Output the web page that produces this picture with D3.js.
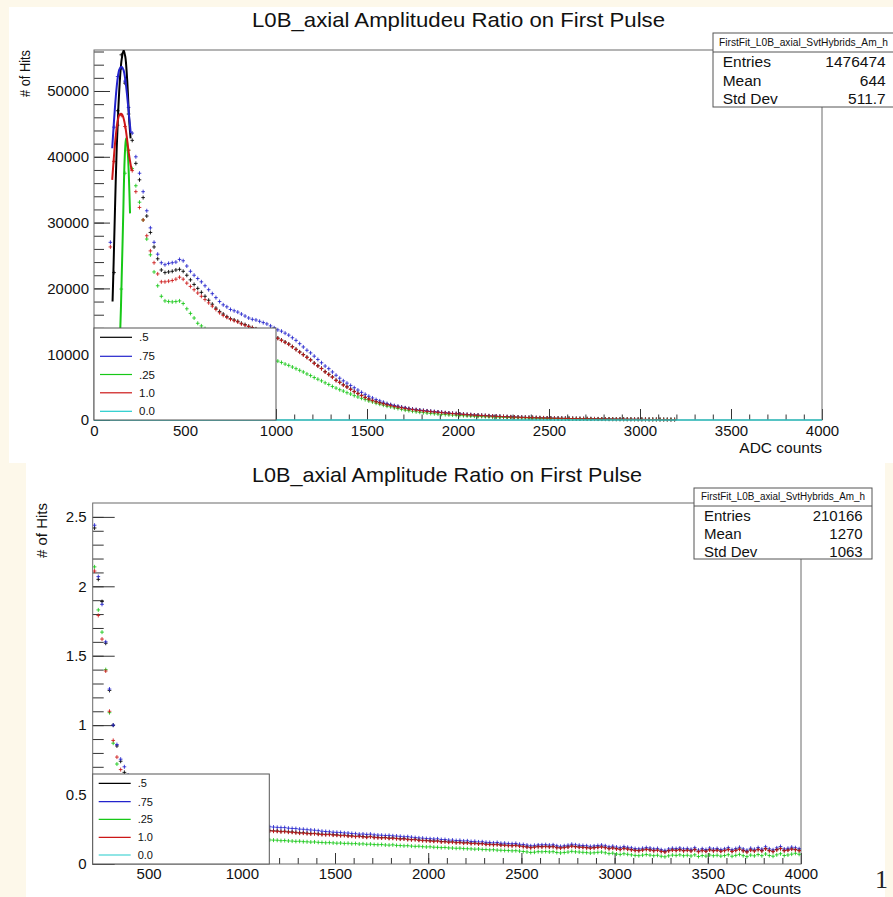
<!DOCTYPE html>
<html>
<head>
<meta charset="utf-8">
<script src="https://cdn.jsdelivr.net/npm/d3@7"></script>
<style>
  body { margin: 0; background: #fdf8ea; }
  svg { display: block; }
</style>
</head>
<body>
<svg id="chart" width="893" height="897"></svg>
<script>
  //ROOT style amplitude ratio histograms, two pads stacked

  const FONT = "'Liberation Sans', Arial, Helvetica, sans-serif";

  const binWidth = 20,
    topFirstBin = 80,      //low edge of first filled bin, upper pad
    topCyanFirstBin = 0,
    bottomFirstBin = 200;  //low edge of first bin, lower pad

  const seriesLabels = [".5", ".75", ".25", "1.0", "0.0"],
    seriesColors = ["#000000", "#2323cc", "#17c817", "#cc1717", "#22cccc"];

  //upper pad: # of hits per 20 ADC bin (bins 80-100 ... 3180-3200)
  const topBlack = [
    null,22400,47000,55500,51200,46500,42500,39000,36500,33800,
    31000,28500,26300,24500,22800,22400,22500,22600,22800,22900,
    22600,22000,21300,20600,20000,19400,18800,18200,17600,17000,
    16500,16100,15700,15400,15200,15000,14700,14500,14250,14050,
    13850,13550,13250,13050,12850,12550,12450,12150,11850,11550,
    11150,10750,10350,9950,9550,9150,8650,8250,7850,7350,
    6950,6550,6050,5750,5350,5050,4700,4350,4050,3750,
    3450,3200,3000,2800,2650,2500,2350,2250,2100,2000,
    1900,1800,1700,1610,1540,1470,1410,1350,1290,1240,
    1190,1140,1080,1030,990,950,910,870,820,790,
    750,720,690,660,625,595,565,540,510,490,
    470,450,430,410,390,372,357,342,327,312,
    300,286,272,260,250,240,230,220,210,200,
    190,182,174,166,158,151,145,138,131,125,
    120,114,109,104,100,94,90,84,80,74,
    70,64,60,54,50,46];

  const topBlue = [
    27000,44500,52200,53500,51500,47500,43600,40000,37500,34700,
    31800,29200,27000,25200,23900,23600,23800,23900,24000,24400,
    24200,23400,22600,22000,21500,21000,20400,19800,19200,18600,
    18000,17500,17200,16800,16600,16400,16100,15800,15500,15300,
    15200,15000,14800,14600,14300,14000,13700,13500,13200,12900,
    12500,12100,11600,11100,10600,10200,9700,9200,8700,8200,
    7800,7300,6800,6350,5950,5600,5250,4900,4550,4200,
    3900,3600,3350,3100,2900,2700,2500,2350,2200,2100,
    1950,1850,1750,1650,1580,1500,1450,1380,1320,1270,
    1220,1160,1100,1050,1000,960,910,870,820,790,
    750,720,690,660,630,600,570,540,510,490,
    470,450,430,410,390,370,355,340,325,310,
    300,285,270,260,250,240,230,220,210,200,
    190,180,175,165,160,150,145,140,130,125,
    120,115,110,105,100,95,90,85,80,75,
    70,65,60,55,50,45];

  const topGreen = [
    null,null,null,19900,37500,41000,38200,35600,33100,30400,
    27500,25100,22500,20400,18800,18100,18000,17950,18000,18100,
    17700,16900,16200,15500,14700,14300,13900,13500,13100,12700,
    12300,12000,11700,11400,11100,10900,10600,10400,10200,10000,
    9800,9600,9450,9300,9150,9050,8950,8750,8500,8300,
    8050,7800,7550,7300,7000,6750,6450,6200,5950,5650,
    5400,5100,4850,4600,4400,4150,3950,3700,3500,3300,
    3100,2900,2750,2550,2400,2250,2100,2000,1850,1750,
    1620,1500,1420,1330,1250,1180,1120,1060,1000,950,
    900,860,820,780,750,720,690,660,630,600,
    575,550,525,500,480,460,440,420,400,385,
    370,355,340,325,310,295,285,270,260,250,
    240,230,220,210,200,192,184,176,168,160,
    153,146,140,133,127,121,116,110,105,100,
    96,92,88,84,80,76,72,69,65,62,
    58,55,52,49,46,43];

  const topRed = [
    26300,39300,44800,46300,44600,41000,37900,34700,32300,30400,
    28000,25700,23900,22200,21000,21000,21100,21200,21400,21700,
    21400,20800,20300,19800,19300,18800,18300,17800,17300,16800,
    16300,15900,15600,15300,15100,14900,14600,14400,14200,14000,
    13800,13500,13200,13000,12800,12500,12400,12100,11800,11500,
    11100,10700,10300,9900,9500,9100,8600,8200,7800,7300,
    6900,6500,6000,5700,5300,5000,4650,4300,4000,3700,
    3400,3150,2950,2750,2600,2450,2300,2200,2050,1950,
    1850,1750,1650,1570,1500,1430,1370,1310,1260,1210,
    1160,1110,1060,1010,970,930,890,850,800,770,
    730,700,670,640,610,580,555,530,500,480,
    460,440,420,400,380,365,350,335,320,305,
    295,280,265,255,245,235,225,215,205,195,
    185,178,170,162,155,148,142,135,128,122,
    118,112,107,102,98,92,88,82,78,72,
    68,62,58,52,48,44];

  //0.0 ratio: empty everywhere, drawn along zero (bins 0-20 ... 3980-4000)
  const topCyan = [
    0,0,0,0,0,0,0,0,0,0,0,0,0,0,0,0,0,0,0,0,
    0,0,0,0,0,0,0,0,0,0,0,0,0,0,0,0,0,0,0,0,
    0,0,0,0,0,0,0,0,0,0,0,0,0,0,0,0,0,0,0,0,
    0,0,0,0,0,0,0,0,0,0,0,0,0,0,0,0,0,0,0,0,
    0,0,0,0,0,0,0,0,0,0,0,0,0,0,0,0,0,0,0,0,
    0,0,0,0,0,0,0,0,0,0,0,0,0,0,0,0,0,0,0,0,
    0,0,0,0,0,0,0,0,0,0,0,0,0,0,0,0,0,0,0,0,
    0,0,0,0,0,0,0,0,0,0,0,0,0,0,0,0,0,0,0,0,
    0,0,0,0,0,0,0,0,0,0,0,0,0,0,0,0,0,0,0,0,
    0,0,0,0,0,0,0,0,0,0,0,0,0,0,0,0,0,0,0,0];

  //gaussian fits near the peak, [ADC, hits]
  const topFitBlack = [[102,18000],[108,24000],[115,31700],[125,41500],[134,47500],[143,52000],
    [152,54800],[163,56200],[172,55200],[182,51800],[194,45300],[201,42800]];
  const topFitBlue = [[100,41300],[110,45500],[120,49200],[130,51900],[140,53300],[152,53700],
    [162,53200],[172,51700],[182,49300],[192,46400],[202,43600]];
  const topFitGreen = [[140,9000],[144,13500],[148,17000],[152,21500],[157,27000],[161,31700],
    [166,37700],[171,41200],[176,42800],[181,42300],[186,40500],[191,37500],[198,31400]];
  const topFitRed = [[100,36500],[110,40200],[120,43300],[130,45400],[140,46400],[152,46500],
    [162,45900],[172,44600],[182,42600],[192,40400],[207,37900]];

  //lower pad: ratio per 20 ADC bin (bins 200-220 ... 3980-4000)
  const bottomBlack = [
    2.42,2.05,1.89,1.59,1.25,1.00,0.85,0.74,0.66,0.60,
    0.55,0.52,0.49,0.465,0.445,0.425,0.41,0.395,0.38,0.37,
    0.36,0.35,0.34,0.333,0.327,0.321,0.316,0.311,0.306,0.301,
    0.296,0.291,0.287,0.283,0.279,0.276,0.273,0.27,0.267,0.264,
    0.261,0.258,0.255,0.252,0.249,0.246,0.244,0.241,0.239,0.238,
    0.235,0.236,0.232,0.231,0.228,0.225,0.225,0.222,0.220,0.221,
    0.217,0.215,0.214,0.215,0.211,0.210,0.207,0.208,0.204,0.203,
    0.200,0.202,0.198,0.195,0.199,0.193,0.192,0.190,0.191,0.187,
    0.188,0.185,0.182,0.183,0.179,0.177,0.178,0.173,0.171,0.170,
    0.168,0.166,0.167,0.162,0.163,0.159,0.160,0.156,0.157,0.153,
    0.154,0.150,0.151,0.147,0.148,0.144,0.143,0.141,0.142,0.138,
    0.137,0.135,0.134,0.136,0.131,0.128,0.124,0.120,0.123,0.127,
    0.126,0.128,0.125,0.127,0.120,0.117,0.121,0.124,0.130,0.126,
    0.123,0.122,0.119,0.116,0.119,0.122,0.124,0.120,0.113,0.117,
    0.111,0.107,0.114,0.109,0.104,0.100,0.098,0.102,0.107,0.103,
    0.098,0.101,0.093,0.089,0.097,0.102,0.100,0.104,0.097,0.101,
    0.096,0.105,0.091,0.099,0.094,0.103,0.097,0.101,0.094,0.099,
    0.106,0.093,0.100,0.108,0.097,0.089,0.102,0.096,0.106,0.097,
    0.111,0.098,0.092,0.104,0.113,0.098,0.102,0.109,0.105,0.099];

  const bottomBlue = [
    2.44,2.07,1.87,1.60,1.26,1.00,0.86,0.755,0.70,0.64,
    0.59,0.55,0.52,0.49,0.47,0.45,0.43,0.415,0.40,0.39,
    0.38,0.37,0.36,0.35,0.345,0.34,0.335,0.33,0.325,0.32,
    0.315,0.31,0.305,0.30,0.298,0.295,0.292,0.29,0.287,0.285,
    0.282,0.28,0.278,0.275,0.273,0.271,0.269,0.268,0.266,0.264,
    0.262,0.262,0.258,0.256,0.255,0.251,0.250,0.247,0.245,0.243,
    0.240,0.236,0.234,0.232,0.229,0.228,0.227,0.224,0.223,0.220,
    0.218,0.215,0.216,0.213,0.215,0.210,0.208,0.207,0.205,0.206,
    0.203,0.201,0.199,0.196,0.197,0.193,0.190,0.188,0.186,0.183,
    0.182,0.180,0.181,0.176,0.176,0.172,0.172,0.169,0.170,0.166,
    0.167,0.162,0.163,0.159,0.160,0.156,0.155,0.152,0.155,0.149,
    0.150,0.147,0.146,0.148,0.142,0.140,0.136,0.131,0.134,0.137,
    0.138,0.139,0.136,0.138,0.131,0.127,0.131,0.135,0.142,0.138,
    0.135,0.133,0.131,0.127,0.130,0.133,0.136,0.131,0.124,0.128,
    0.122,0.118,0.125,0.120,0.116,0.111,0.109,0.113,0.118,0.115,
    0.109,0.112,0.103,0.098,0.108,0.113,0.111,0.115,0.109,0.112,
    0.106,0.117,0.100,0.110,0.104,0.115,0.108,0.112,0.104,0.109,
    0.118,0.103,0.111,0.120,0.108,0.099,0.113,0.106,0.118,0.107,
    0.124,0.109,0.102,0.116,0.126,0.108,0.113,0.121,0.117,0.110];

  const bottomGreen = [
    2.14,1.83,1.67,1.40,1.09,0.87,0.72,0.63,0.56,0.50,
    0.46,0.42,0.39,0.36,0.34,0.32,0.305,0.29,0.28,0.27,
    0.26,0.252,0.245,0.238,0.232,0.227,0.222,0.218,0.214,0.21,
    0.206,0.203,0.20,0.197,0.194,0.191,0.189,0.187,0.185,0.183,
    0.181,0.18,0.178,0.177,0.176,0.175,0.174,0.173,0.172,0.171,
    0.168,0.169,0.166,0.165,0.163,0.164,0.161,0.16,0.158,0.159,
    0.156,0.155,0.153,0.154,0.152,0.15,0.151,0.148,0.149,0.146,
    0.147,0.144,0.145,0.142,0.143,0.14,0.139,0.14,0.137,0.136,
    0.138,0.134,0.133,0.131,0.132,0.129,0.127,0.128,0.125,0.123,
    0.124,0.121,0.12,0.118,0.119,0.116,0.115,0.113,0.114,0.111,
    0.11,0.109,0.107,0.108,0.105,0.104,0.102,0.103,0.1,0.099,
    0.098,0.097,0.095,0.096,0.093,0.09,0.087,0.083,0.085,0.089,
    0.088,0.09,0.087,0.089,0.083,0.08,0.083,0.086,0.091,0.088,
    0.086,0.084,0.082,0.079,0.081,0.084,0.086,0.081,0.075,0.078,
    0.072,0.069,0.074,0.07,0.066,0.062,0.06,0.064,0.068,0.064,
    0.06,0.063,0.056,0.052,0.059,0.064,0.062,0.066,0.06,0.063,
    0.058,0.066,0.054,0.061,0.057,0.065,0.06,0.063,0.057,0.061,
    0.067,0.056,0.062,0.069,0.06,0.053,0.064,0.059,0.068,0.06,
    0.072,0.061,0.056,0.066,0.074,0.061,0.065,0.071,0.077,0.07];

  const bottomRed = [
    2.11,1.79,1.62,1.39,1.10,0.89,0.77,0.68,0.62,0.57,
    0.53,0.50,0.47,0.45,0.43,0.41,0.395,0.38,0.37,0.36,
    0.35,0.34,0.33,0.325,0.32,0.315,0.31,0.305,0.30,0.295,
    0.29,0.285,0.282,0.278,0.275,0.272,0.269,0.266,0.263,0.26,
    0.257,0.254,0.252,0.249,0.246,0.243,0.241,0.238,0.236,0.235,
    0.232,0.233,0.229,0.228,0.225,0.222,0.222,0.219,0.217,0.218,
    0.214,0.212,0.211,0.212,0.208,0.207,0.204,0.205,0.201,0.200,
    0.197,0.199,0.195,0.192,0.196,0.190,0.189,0.187,0.188,0.184,
    0.185,0.182,0.179,0.180,0.176,0.174,0.175,0.170,0.168,0.167,
    0.165,0.163,0.164,0.159,0.160,0.156,0.157,0.153,0.154,0.150,
    0.151,0.147,0.148,0.144,0.145,0.141,0.140,0.138,0.139,0.135,
    0.134,0.132,0.131,0.133,0.128,0.125,0.121,0.117,0.120,0.124,
    0.123,0.125,0.122,0.124,0.117,0.114,0.118,0.121,0.127,0.123,
    0.120,0.119,0.116,0.113,0.116,0.119,0.121,0.117,0.110,0.114,
    0.108,0.104,0.111,0.106,0.101,0.097,0.095,0.099,0.104,0.100,
    0.095,0.098,0.090,0.086,0.094,0.099,0.097,0.101,0.094,0.098,
    0.093,0.102,0.088,0.096,0.091,0.100,0.094,0.098,0.091,0.096,
    0.103,0.090,0.097,0.105,0.094,0.086,0.099,0.093,0.103,0.094,
    0.108,0.095,0.089,0.101,0.110,0.095,0.099,0.106,0.102,0.096];

  //axis ticks and stat boxes
  const topXTicks = [0,500,1000,1500,2000,2500,3000,3500,4000],
    topYTicks = [0,10000,20000,30000,40000,50000],
    bottomXTicks = [500,1000,1500,2000,2500,3000,3500,4000],
    bottomYTicks = [0,0.5,1,1.5,2,2.5];

  const topStats = [["Entries","1476474"],["Mean","644"],["Std Dev","511.7"]],
    bottomStats = [["Entries","210166"],["Mean","1270"],["Std Dev","1063"]];

  const svg = d3.select("#chart");

  //white pads on the cream page
  svg.append("rect").attr("x", 9).attr("y", 7).attr("width", 884).attr("height", 456).attr("fill", "#fff");
  svg.append("rect").attr("x", 26).attr("y", 462).attr("width", 859).attr("height", 435).attr("fill", "#fff");

  const addText = function(g, x, y, str, size, anchor){
    return g.append("text")
      .attr("x", x).attr("y", y)
      .attr("font-family", FONT)
      .attr("font-size", size)
      .attr("text-anchor", anchor || "start")
      .attr("fill", "#111")
      .text(str);
  };

  //"+" markers with horizontal bin-width bars
  const pointsPath = function(values, first, x, y, half){
    let d = "";
    values.forEach(function(v, i){
      if(v == null) return;
      const lo = first + i * binWidth,
        x0 = x(lo), x1 = x(lo + binWidth), xc = (x0 + x1) / 2, yc = y(v);
      d += "M" + x0 + "," + yc + "H" + x1;
      if(half > 0) d += "M" + xc + "," + (yc - half) + "V" + (yc + half);
    });
    return d;
  };

  const drawPanel = function(p){
    const g = svg.append("g");

    const x = d3.scaleLinear().domain(p.xDomain).range([p.left, p.right]),
      y = d3.scaleLinear().domain(p.yDomain).range([p.bottom, p.top]);

    //clip a hair below the axis so zero-level bars stay visible
    g.append("clipPath").attr("id", p.id + "-clip")
      .append("rect")
        .attr("x", p.left).attr("y", p.top)
        .attr("width", p.right - p.left).attr("height", p.bottom - p.top + 1.5);

    //title
    addText(g, p.titleX, p.titleY, p.title, 21, "middle")
      .attr("textLength", p.titleLen).attr("lengthAdjust", "spacingAndGlyphs");

    //ticks inside the frame, ROOT style
    const styleAxis = function(a){
      a.select(".domain").remove();
      a.attr("font-family", FONT).attr("font-size", 15);
      a.selectAll(".tick line").attr("stroke", "#333");
      a.selectAll(".tick text").attr("fill", "#111");
    };

    g.append("g").attr("transform", "translate(" + p.left + ",0)")
      .call(d3.axisLeft(y).tickValues(p.yMinor).tickSize(-p.yMinorLen).tickFormat(""))
      .call(styleAxis);
    g.append("g").attr("transform", "translate(" + p.left + ",0)")
      .call(d3.axisLeft(y).tickValues(p.yTicks).tickSize(-p.yMajorLen).tickPadding(p.yPad).tickFormat(d3.format("~g")))
      .call(styleAxis);
    g.append("g").attr("transform", "translate(0," + p.bottom + ")")
      .call(d3.axisBottom(x).tickValues(p.xMinor).tickSize(-p.xMinorLen).tickFormat(""))
      .call(styleAxis);
    g.append("g").attr("transform", "translate(0," + p.bottom + ")")
      .call(d3.axisBottom(x).tickValues(p.xTicks).tickSize(-p.xMajorLen).tickPadding(p.xPad).tickFormat(d3.format("d")))
      .call(styleAxis);

    //frame
    g.append("rect")
      .attr("x", p.left).attr("y", p.top)
      .attr("width", p.right - p.left).attr("height", p.bottom - p.top)
      .attr("fill", "none").attr("stroke", "#6a6a6a");

    //data points
    const data = g.append("g").attr("clip-path", "url(#" + p.id + "-clip)");
    p.series.forEach(function(s){
      data.append("path")
        .attr("d", pointsPath(s.values, s.first, x, y, s.half == null ? 2 : s.half))
        .attr("fill", "none")
        .attr("stroke", seriesColors[s.index])
        .attr("stroke-opacity", 0.85)
        .attr("stroke-width", s.half === 0 ? 1.6 : 1);
    });

    //fit curves
    const line = d3.line().x((d) => x(d[0])).y((d) => y(d[1])).curve(d3.curveCatmullRom);
    (p.fits || []).forEach(function(f){
      data.append("path")
        .attr("d", line(f.points))
        .attr("fill", "none")
        .attr("stroke", seriesColors[f.index])
        .attr("stroke-width", 2);
    });

    //axis titles
    addText(g, p.right, p.xTitleY, p.xTitle, 15.5, "end");
    addText(g, 0, 0, "# of Hits", p.yTitleSize, "end")
      .attr("transform", "translate(" + p.yTitleX + "," + p.top + ") rotate(-90)")
      .attr("textLength", p.yTitleLen).attr("lengthAdjust", "spacingAndGlyphs");

    //legend
    const lg = g.append("g");
    lg.append("rect")
      .attr("x", p.legend.x).attr("y", p.legend.y)
      .attr("width", p.legend.w).attr("height", p.bottom - p.legend.y)
      .attr("fill", "#fff").attr("stroke", "#555");
    seriesLabels.forEach(function(label, i){
      const yy = p.legend.rows[i];
      lg.append("line")
        .attr("x1", p.legend.x + 6).attr("x2", p.legend.x + 38)
        .attr("y1", yy).attr("y2", yy)
        .attr("stroke", seriesColors[i]).attr("stroke-width", 1.2);
      addText(lg, p.legend.x + 45, yy, label, p.legend.size).attr("dy", "0.36em");
    });

    //stats box
    const sb = g.append("g"), st = p.stats;
    sb.append("rect")
      .attr("x", st.x).attr("y", st.y).attr("width", st.w).attr("height", st.h)
      .attr("fill", "#fff").attr("stroke", "#555");
    sb.append("line")
      .attr("x1", st.x).attr("x2", st.x + st.w)
      .attr("y1", st.sep).attr("y2", st.sep)
      .attr("stroke", "#555");
    addText(sb, st.x + st.w / 2, st.headY, "FirstFit_L0B_axial_SvtHybrids_Am_h", st.headSize, "middle")
      .attr("textLength", st.headLen).attr("lengthAdjust", "spacingAndGlyphs");
    st.rows.forEach(function(r, i){
      addText(sb, st.labelX, st.rowY[i], r[0], st.size);
      addText(sb, st.valueX, st.rowY[i], r[1], st.size, "end");
    });
  };

  drawPanel({
    id: "top",
    left: 94, right: 822, top: 50, bottom: 420,
    xDomain: [0, 4000], yDomain: [0, 56230],
    title: "L0B_axial Amplitudeu Ratio on First Pulse", titleX: 458.5, titleY: 27, titleLen: 413,
    xTicks: topXTicks, xMinor: d3.range(0, 4001, 100), xMajorLen: 11, xMinorLen: 5.5, xPad: 5,
    yTicks: topYTicks, yMinor: d3.range(0, 56001, 2000), yMajorLen: 16, yMinorLen: 10, yPad: 5,
    xTitle: "ADC counts", xTitleY: 453,
    yTitleX: 30, yTitleSize: 14, yTitleLen: 47,
    series: [
      {index: 0, values: topBlack, first: topFirstBin},
      {index: 1, values: topBlue, first: topFirstBin},
      {index: 2, values: topGreen, first: topFirstBin},
      {index: 3, values: topRed, first: topFirstBin},
      {index: 4, values: topCyan, first: topCyanFirstBin, half: 0}
    ],
    fits: [
      {index: 0, points: topFitBlack},
      {index: 1, points: topFitBlue},
      {index: 2, points: topFitGreen},
      {index: 3, points: topFitRed}
    ],
    legend: {x: 94, y: 328, w: 182, size: 11.5, rows: [337.3, 356.3, 374.5, 392.8, 411.3]},
    stats: {x: 713, y: 33, w: 181, h: 74, sep: 52, headY: 46, headSize: 10.5, headLen: 169,
      labelX: 722.7, valueX: 885.7, size: 15.5, rowY: [67, 86, 104], rows: topStats}
  });

  drawPanel({
    id: "bottom",
    left: 92.7, right: 801, top: 503, bottom: 864,
    xDomain: [200, 4000], yDomain: [0, 2.6],
    title: "L0B_axial Amplitude Ratio on First Pulse", titleX: 447, titleY: 482, titleLen: 390,
    xTicks: bottomXTicks, xMinor: d3.range(200, 4001, 100), xMajorLen: 11, xMinorLen: 6, xPad: 4.5,
    yTicks: bottomYTicks, yMinor: d3.range(0, 26).map((k) => k / 10), yMajorLen: 22, yMinorLen: 11, yPad: 6,
    xTitle: "ADC Counts", xTitleY: 894,
    yTitleX: 47, yTitleSize: 15, yTitleLen: 55,
    series: [
      {index: 0, values: bottomBlack, first: bottomFirstBin},
      {index: 1, values: bottomBlue, first: bottomFirstBin},
      {index: 2, values: bottomGreen, first: bottomFirstBin},
      {index: 3, values: bottomRed, first: bottomFirstBin}
    ],
    legend: {x: 92.7, y: 774, w: 176.6, size: 11, rows: [783.3, 801.7, 819.3, 837.3, 855]},
    stats: {x: 694, y: 488, w: 178, h: 71, sep: 506, headY: 500, headSize: 10, headLen: 164,
      labelX: 704, valueX: 862.7, size: 15, rowY: [521, 539, 556.5], rows: bottomStats}
  });

  //page number peeking in at the corner
  svg.append("text")
    .attr("x", 875).attr("y", 888)
    .attr("font-family", "'Liberation Serif', 'DejaVu Serif', serif")
    .attr("font-size", 26)
    .attr("fill", "#222")
    .text("1");
</script>
</body>
</html>
